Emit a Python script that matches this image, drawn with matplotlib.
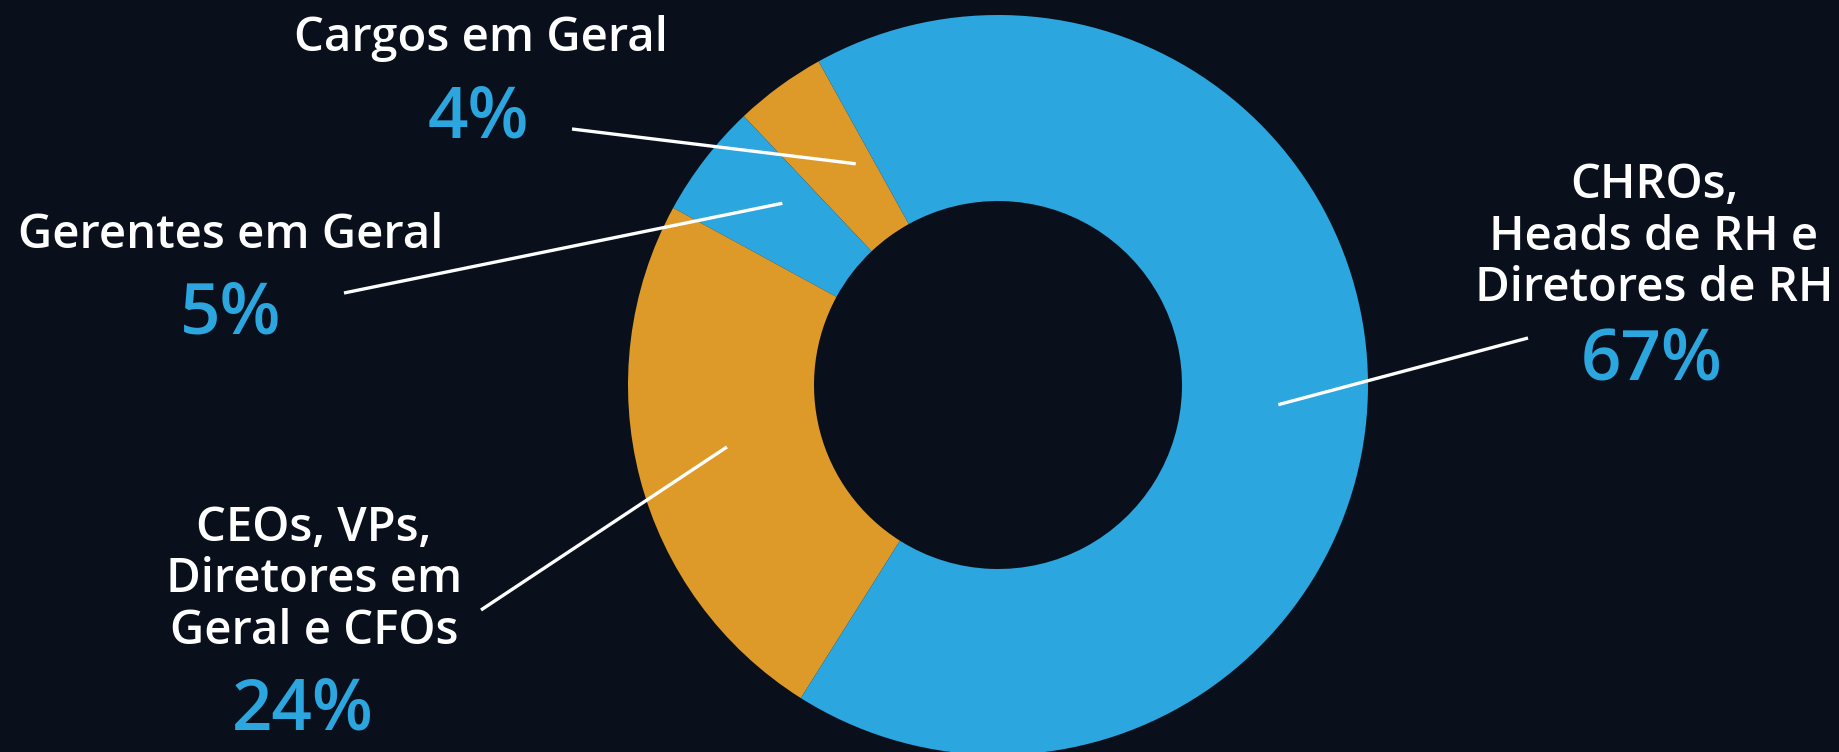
import numpy as np
import matplotlib.pyplot as plt

# data, counterclockwise from the top-left
labels = ["Cargos em Geral", "Gerentes em Geral",
          "CEOs, VPs,\nDiretores em\nGeral e CFOs",
          "CHROs,\nHeads de RH e\nDiretores de RH"]
values = [4, 5, 24, 67]
colors = ["#dd9a28", "#2ba6de", "#dd9a28", "#2ba6de"]

BG = "#0a0f1c"
BLUE = "#2ba6de"
W, H = 1839, 752

fig = plt.figure(figsize=(W / 100, H / 100), dpi=100, facecolor=BG)
ax = fig.add_axes([0, 0, 1, 1])
ax.set_facecolor(BG)

cx, cy = 998, H - 385
R = 370
wedges, _ = ax.pie(values, colors=colors, startangle=119, counterclock=True,
                   center=(cx, cy), radius=R,
                   wedgeprops=dict(width=186, linewidth=0))

ax.set_xlim(0, W)
ax.set_ylim(0, H)
ax.set_aspect("equal")
ax.axis("off")

# label layout (pixels, y from top): label pos, pct pos, line start, anchor frac, anchor radius
label_pos = [(481, 38), (231, 235), (314, 580), (1654, 237)]
pct_pos = [(478, 119), (231, 316), (303, 712), (1652, 361)]
line_start = [(572, 129), (344, 293), (481, 610), (1528, 338)]
anchor_frac = [0.26, 0.36, 0.48, 0.49]
anchor_r = [263, 282, 278, 281]

for i, w in enumerate(wedges):
    ang = np.deg2rad(w.theta1 + anchor_frac[i] * (w.theta2 - w.theta1))
    ex = cx + anchor_r[i] * np.cos(ang)
    ey = cy + anchor_r[i] * np.sin(ang)
    sx, sy = line_start[i]
    ax.plot([sx, ex], [H - sy, ey], color="white", lw=2.4, solid_capstyle="butt")

    lx, ly = label_pos[i]
    ax.text(lx, H - ly, labels[i], color="white", fontsize=34, family="Open Sans",
            fontweight="semibold", ha="center", va="center", linespacing=1.12)
    px, py = pct_pos[i]
    ax.text(px, H - py, "{}%".format(values[i]), color=BLUE, fontsize=51,
            family="Open Sans", fontweight="semibold", ha="center", va="center")

fig.savefig("out.png", dpi=100, facecolor=BG)
